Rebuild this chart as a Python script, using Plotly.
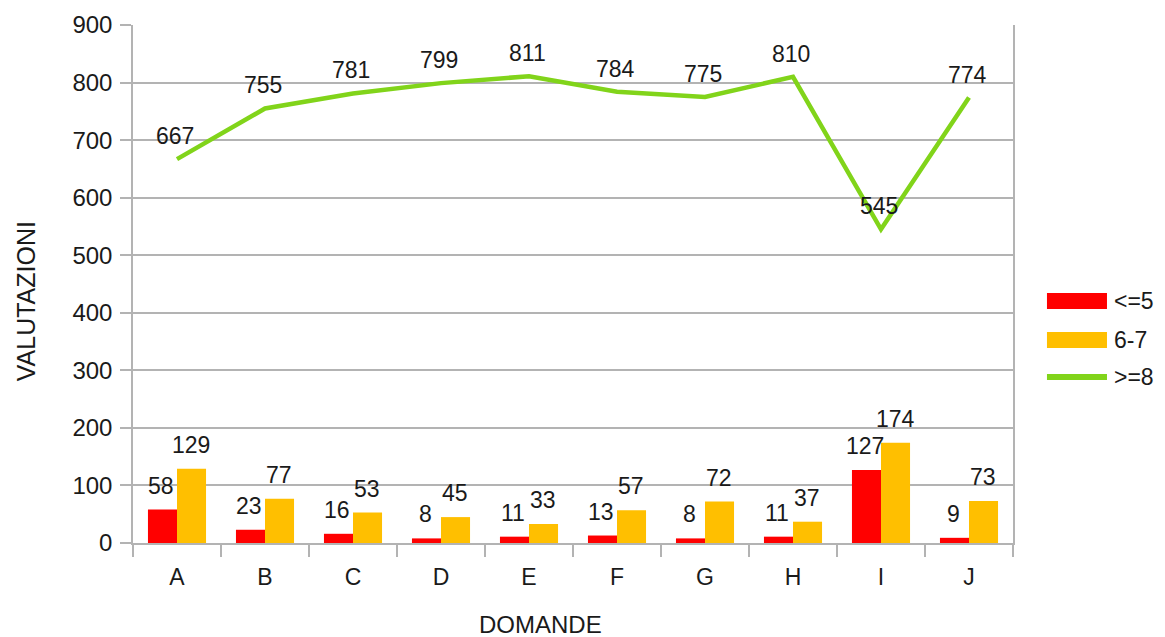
import plotly.graph_objects as go

categories = ["A", "B", "C", "D", "E", "F", "G", "H", "I", "J"]
low_vals = [58, 23, 16, 8, 11, 13, 8, 11, 127, 9]
mid_vals = [129, 77, 53, 45, 33, 57, 72, 37, 174, 73]
high_vals = [667, 755, 781, 799, 811, 784, 775, 810, 545, 774]
series_names = ["<=5", "6-7", ">=8"]
y_ticks = [0, 100, 200, 300, 400, 500, 600, 700, 800, 900]

RED = "#ff0000"
ORANGE = "#ffbf00"
GREEN = "#81d41a"
FONT = "Liberation Sans"
TXT = "#1a1a1a"
GRID = "#b3b3b3"

fig = go.Figure()
fig.add_trace(go.Bar(x=categories, y=low_vals, name=series_names[0], marker_color=RED,
                     marker_line_width=0))
fig.add_trace(go.Bar(x=categories, y=mid_vals, name=series_names[1], marker_color=ORANGE,
                     marker_line_width=0))
fig.add_trace(go.Scatter(x=categories, y=high_vals, name=series_names[2], mode="lines",
                         line=dict(color=GREEN, width=4.5), cliponaxis=False))

lab_font = dict(size=23, color=TXT, family=FONT)
# data labels, anchored to the data points through the axes
for c, v in zip(categories, low_vals):
    fig.add_annotation(x=c, y=v, text=str(v), showarrow=False, xshift=-16, yshift=24,
                       xanchor="center", yanchor="middle", font=lab_font)
for c, v in zip(categories, mid_vals):
    fig.add_annotation(x=c, y=v, text=str(v), showarrow=False, xshift=14, yshift=24,
                       xanchor="center", yanchor="middle", font=lab_font)
for c, v in zip(categories, high_vals):
    fig.add_annotation(x=c, y=v, text=str(v), showarrow=False, xshift=-2, yshift=23,
                       xanchor="center", yanchor="middle", font=lab_font)

fig.update_layout(
    width=1165, height=637,
    margin=dict(l=133, r=152, t=25, b=94),
    paper_bgcolor="white", plot_bgcolor="white",
    barmode="group", bargap=0.34, bargroupgap=0,
    showlegend=False,
    font=dict(family=FONT, size=23, color=TXT),
)
fig.update_xaxes(
    showline=True, linecolor=GRID, linewidth=1.5, mirror=False,
    ticks="outside", tickson="boundaries", ticklen=12, tickcolor=GRID, tickwidth=1.5,
    showgrid=False, tickfont=dict(size=23, color=TXT, family=FONT),
    ticklabelstandoff=13,
)
fig.update_yaxes(
    range=[0, 900], tickvals=y_ticks, showline=True, linecolor=GRID, linewidth=1.5,
    mirror=True, ticks="outside", ticklen=11, tickcolor=GRID, tickwidth=1.5,
    showgrid=True, gridcolor=GRID, gridwidth=1.5, zeroline=False,
    tickfont=dict(size=24, color=TXT, family=FONT), ticklabelstandoff=3,
)

# axis titles
fig.add_annotation(text="VALUTAZIONI", xref="paper", yref="paper", x=-0.122, y=0.466,
                   textangle=-90, showarrow=False, font=dict(size=25, color=TXT, family=FONT),
                   xanchor="center", yanchor="middle")
fig.add_annotation(text="DOMANDE", xref="paper", yref="paper", x=0.4636, y=-0.1564,
                   showarrow=False, font=dict(size=24, color=TXT, family=FONT),
                   xanchor="center", yanchor="middle")

# custom legend
leg_colors = [RED, ORANGE, GREEN]
leg_y = [0.4672, 0.3918, 0.3205]
for i, (nm, col, yc) in enumerate(zip(series_names, leg_colors, leg_y)):
    if i < 2:
        fig.add_shape(type="rect", xref="paper", yref="paper", x0=1.0386, x1=1.1068,
                      y0=yc - 0.0155, y1=yc + 0.0155, fillcolor=col, line_width=0)
    else:
        fig.add_shape(type="line", xref="paper", yref="paper", x0=1.0386, x1=1.1068,
                      y0=yc, y1=yc, line=dict(color=col, width=6))
    fig.add_annotation(text=nm, xref="paper", yref="paper", x=1.1125, y=yc,
                       showarrow=False, xanchor="left", yanchor="middle",
                       font=dict(size=23, color=TXT, family=FONT))

fig.write_html("out.html", post_script="document.body.style.margin='0';",
               config={"displayModeBar": False})
